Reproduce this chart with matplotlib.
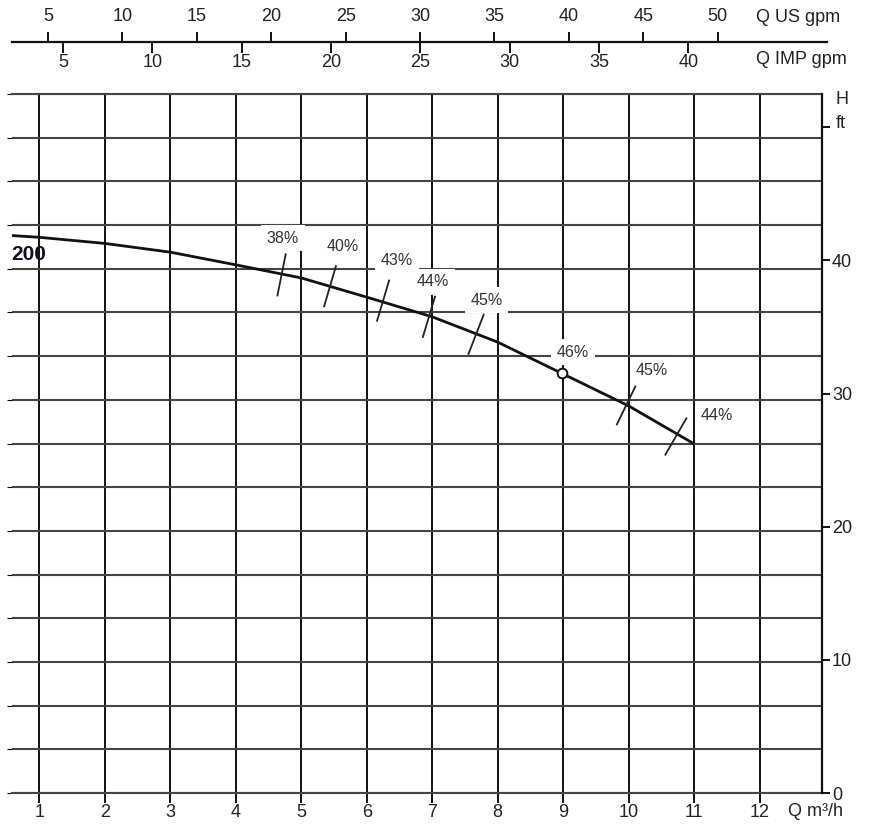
import numpy as np
import matplotlib
matplotlib.use('Agg')
import matplotlib.pyplot as plt

plt.rcParams['font.family'] = ['Liberation Sans', 'DejaVu Sans']

# ---------------- data ----------------
q_curve = [0.58, 1, 2, 3, 4, 5, 6, 7, 8, 9, 10, 11]            # m3/h
h_curve = [12.76, 12.72, 12.58, 12.38, 12.09, 11.79, 11.35, 10.90, 10.32, 9.59, 8.86, 7.99]  # m
curve_name = '200'

eff_labels = ['38%', '40%', '43%', '44%', '45%', '46%', '45%', '44%']
eff_q = [4.70, 5.44, 6.25, 6.95, 7.67, 8.98, 9.96, 10.72]
eff_h = [11.86, 11.60, 11.27, 10.90, 10.50, 9.61, 8.87, 8.16]
bep_index = 5

q_ticks = list(range(1, 13))
h_m_grid = list(range(0, 17))
h_ft_ticks = [0, 10, 20, 30, 40, 50]
h_ft_labels = ['0', '10', '20', '30', '40', '']
us_ticks = [5, 10, 15, 20, 25, 30, 35, 40, 45, 50]
imp_ticks = [5, 10, 15, 20, 25, 30, 35, 40]

# unit conversions
M_TO_FT = 3.28084
M3H_TO_US = 4.402868
M3H_TO_IMP = 3.666154

# label layout (data coords)
eff_label_xy = [(4.72, 12.70), (5.64, 12.50), (6.46, 12.20), (7.01, 11.70),
                (7.83, 11.28), (9.15, 10.09), (10.35, 9.68), (11.34, 8.65)]

# ---------------- layout ----------------
W, H = 879, 825
fig = plt.figure(figsize=(W / 100, H / 100), dpi=100)
fig.patch.set_facecolor('white')


def fx(px):
    return px / W


def fy(py):
    return 1 - py / H


ppq = 65.5
x0 = 0.58
ax_l, ax_r, ax_t, ax_b = 11.7, 822.3, 94, 793
ax = fig.add_axes([fx(ax_l), fy(ax_b), fx(ax_r) - fx(ax_l), fy(ax_t) - fy(ax_b)])
ax.set_xlim(x0, x0 + (ax_r - ax_l) / ppq)
ax.set_ylim(0, 16)
ax.set_xticks(q_ticks)
ax.set_xticklabels([str(t) for t in q_ticks])
ax.set_yticks(h_m_grid)
ax.tick_params(axis='y', left=False, labelleft=False)
ax.tick_params(axis='x', direction='out', length=7, width=1.4, color='#111',
               labelsize=13, pad=1, labelcolor='#222')
ax.xaxis.grid(True, color='#111', lw=1.4, zorder=1)
ax.yaxis.grid(True, color='#444', lw=1.5, zorder=1)
ax.set_axisbelow(True)
ax.spines['left'].set_visible(False)
ax.spines['right'].set_visible(False)
for s in ('top', 'bottom'):
    ax.spines[s].set_color('#444')
    ax.spines[s].set_linewidth(1.5)

# right ft axis
ax2 = ax.twinx()
ax2.set_ylim(0, 16 * M_TO_FT)
ax2.set_yticks(h_ft_ticks)
ax2.set_yticklabels(h_ft_labels)
ax2.tick_params(axis='y', direction='out', length=6, width=1.4, color='#111',
                labelsize=13, pad=1, labelcolor='#222')
for s in ('top', 'bottom', 'left'):
    ax2.spines[s].set_visible(False)
ax2.spines['right'].set_color('#111')
ax2.spines['right'].set_linewidth(1.6)

# curve
ax.plot(q_curve, h_curve, color='#111', lw=2.0, zorder=5, solid_capstyle='butt')

# efficiency ticks (perpendicular to curve in display space)
disp = ax.transData.transform(np.column_stack([q_curve, h_curve]))
inv = ax.transData.inverted()
L = 42
for i, (q, h) in enumerate(zip(eff_q, eff_h)):
    if i == bep_index:
        continue
    seg = np.searchsorted(q_curve, q) - 1
    seg = min(max(seg, 0), len(q_curve) - 2)
    d = disp[seg + 1] - disp[seg]
    d = d / np.hypot(*d)
    n = np.array([-d[1], d[0]])
    p = ax.transData.transform((q, h))
    ends = inv.transform(np.vstack([p - n * L / 2, p + n * L / 2]))
    ax.plot(ends[:, 0], ends[:, 1], color='#222', lw=1.3, zorder=5)

# best efficiency point marker
ax.plot([eff_q[bep_index]], [eff_h[bep_index]], marker='o', ms=7, mfc='white',
        mec='#111', mew=1.4, zorder=6, linestyle='none')

# efficiency labels
for lab, (lx, ly) in zip(eff_labels, eff_label_xy):
    ax.text(lx, ly, lab, ha='center', va='center', fontsize=11.5, color='#333',
            zorder=4, bbox=dict(fc='white', ec='none', boxstyle='square,pad=0.35'))

# curve name
fig.text(fx(ax_l), fy(255), curve_name, ha='left', va='center', fontsize=15,
         fontweight='bold', color='#111122')

# top axes: US gpm (above) and IMP gpm (below)
top_r = 826.7
ax_top = fig.add_axes([fx(ax_l), fy(41.7), fx(top_r) - fx(ax_l), 1e-6])
ax_top.set_xlim(x0 * M3H_TO_US, (x0 + (top_r - ax_l) / ppq) * M3H_TO_US)
ax_top.patch.set_visible(False)
for s in ('bottom', 'left', 'right'):
    ax_top.spines[s].set_visible(False)
ax_top.spines['top'].set_color('#111')
ax_top.spines['top'].set_linewidth(1.6)
ax_top.set_yticks([])
ax_top.xaxis.tick_top()
ax_top.set_xticks(us_ticks)
ax_top.set_xticklabels([str(t) for t in us_ticks])
ax_top.tick_params(axis='x', direction='out', length=7, width=1.4, color='#111',
                   labelsize=13, pad=5, labelcolor='#222')

sec = ax_top.secondary_xaxis('bottom',
                             functions=(lambda u: u * M3H_TO_IMP / M3H_TO_US,
                                        lambda i: i * M3H_TO_US / M3H_TO_IMP))
sec.set_xticks(imp_ticks)
sec.set_xticklabels([str(t) for t in imp_ticks])
sec.spines['bottom'].set_visible(False)
sec.tick_params(axis='x', direction='out', length=8, width=1.4, color='#111',
                labelsize=13, pad=0.5, labelcolor='#222')

# axis titles
fig.text(fx(756), fy(18), 'Q US gpm', ha='left', va='center', fontsize=13, color='#222')
fig.text(fx(756), fy(60), 'Q IMP gpm', ha='left', va='center', fontsize=13, color='#222')
fig.text(fx(788), fy(811), 'Q m³/h', ha='left', va='center', fontsize=13, color='#222')
fig.text(fx(836), fy(100), 'H', ha='left', va='center', fontsize=13, color='#222')
fig.text(fx(836), fy(123), 'ft', ha='left', va='center', fontsize=13, color='#222')

fig.savefig('out.png', dpi=100)
